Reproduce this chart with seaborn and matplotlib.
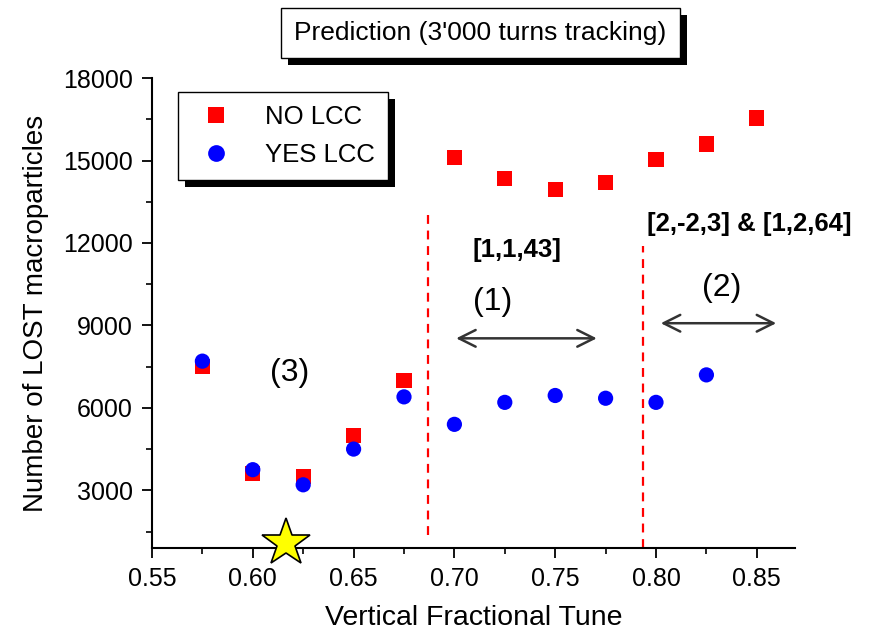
import matplotlib
matplotlib.use("Agg")
import matplotlib.pyplot as plt
import matplotlib.patheffects as pe
from matplotlib.ticker import MultipleLocator, FormatStrFormatter
import pandas as pd
import seaborn as sns

# Vertical fractional tune scan
tune_no_lcc = [0.575, 0.600, 0.625, 0.650, 0.675, 0.700, 0.725, 0.750, 0.775, 0.800, 0.825, 0.850]
lost_no_lcc = [7500, 3600, 3500, 5000, 7000, 15100, 14350, 13950, 14200, 15050, 15600, 16550]

tune_yes_lcc = [0.575, 0.600, 0.625, 0.650, 0.675, 0.700, 0.725, 0.750, 0.775, 0.800, 0.825]
lost_yes_lcc = [7700, 3750, 3200, 4500, 6400, 5400, 6200, 6450, 6350, 6200, 7200]

series_names = ["NO LCC", "YES LCC"]
series_colors = ["#ff0000", "#0000ff"]

# Resonance boundaries and working point
resonance_lines = [(0.6868, 1360, 13200), (0.7934, 900, 11900)]
working_point = (0.6164, 1070)

df = pd.concat([
    pd.DataFrame({"tune": tune_no_lcc, "lost": lost_no_lcc, "case": series_names[0]}),
    pd.DataFrame({"tune": tune_yes_lcc, "lost": lost_yes_lcc, "case": series_names[1]}),
], ignore_index=True)

sns.set_style("ticks")
plt.rcParams["font.family"] = ["Liberation Sans", "DejaVu Sans"]
plt.rcParams.update({
    "text.color": "black",
    "axes.labelcolor": "black",
    "xtick.color": "black",
    "ytick.color": "black",
})

fig = plt.figure(figsize=(8.75, 6.35), dpi=100)
ax = fig.add_axes([0.1737, 0.137, 0.735, 0.740])

sns.scatterplot(
    data=df, x="tune", y="lost", hue="case", style="case",
    palette=dict(zip(series_names, series_colors)),
    markers={"NO LCC": "s", "YES LCC": "o"},
    s=120, linewidth=0, ax=ax, zorder=3, legend=True,
)

for x, y0, y1 in resonance_lines:
    ax.plot([x, x], [y0, y1], color="#ff0000", linestyle=(0, (4, 3)), linewidth=1.6, zorder=2)

ax.plot(*working_point, marker="*", markersize=36, color="#ffff00",
        markeredgecolor="black", markeredgewidth=1.2, clip_on=False, zorder=4)

arrow_style = dict(arrowstyle="<->,head_length=1.2,head_width=0.6", color="#333333", lw=1.8)
ax.annotate("", xy=(0.6995, 8530), xytext=(0.7720, 8530), arrowprops=arrow_style)
ax.annotate("", xy=(0.8010, 9080), xytext=(0.8610, 9080), arrowprops=arrow_style)

ax.text(0.7190, 9850, "(1)", fontsize=23, ha="center", va="center")
ax.text(0.8326, 10350, "(2)", fontsize=23, ha="center", va="center")
ax.text(0.6184, 7260, "(3)", fontsize=23, ha="center", va="center")
ax.text(0.7310, 11740, "[1,1,43]", fontsize=18.5, fontweight="bold", ha="center", va="center")
ax.text(0.8465, 12680, "[2,-2,3] & [1,2,64]", fontsize=18.5, fontweight="bold", ha="center", va="center")

ax.set_xlim(0.55, 0.869)
ax.set_ylim(900, 18000)
ax.xaxis.set_major_locator(MultipleLocator(0.05))
ax.xaxis.set_minor_locator(MultipleLocator(0.025))
ax.xaxis.set_major_formatter(FormatStrFormatter("%.2f"))
ax.yaxis.set_major_locator(MultipleLocator(3000))
ax.yaxis.set_minor_locator(MultipleLocator(1500))

sns.despine(ax=ax)
for side in ("left", "bottom"):
    ax.spines[side].set_linewidth(1.5)
    ax.spines[side].set_color("black")
ax.tick_params(which="major", length=7, width=1.3, labelsize=18, pad=7)
ax.tick_params(which="minor", length=4, width=1.2)

ax.set_xlabel("Vertical Fractional Tune", fontsize=20.5, labelpad=10)
ax.set_ylabel("Number of LOST macroparticles", fontsize=20, labelpad=10)

shadow = [pe.SimplePatchShadow(offset=(5, -5), shadow_rgbFace="black", alpha=1.0), pe.Normal()]

handles, labels = ax.get_legend_handles_labels()
leg = ax.legend(handles, labels, loc="upper left", bbox_to_anchor=(0.04, 0.97),
                fontsize=18.5, frameon=True, fancybox=False, framealpha=1,
                edgecolor="black", markerscale=1.1, handletextpad=0.9,
                borderpad=0.5, labelspacing=0.55, borderaxespad=0)
leg.get_frame().set_linewidth(1.0)
leg.get_frame().set_path_effects(shadow)

title = fig.text(0.549, 0.948, "Prediction (3'000 turns tracking)", fontsize=19,
                 ha="center", va="center",
                 bbox=dict(boxstyle="square,pad=0.5", fc="white", ec="black", lw=1.0))
title.get_bbox_patch().set_path_effects(shadow)

fig.savefig("out.png", dpi=100)
